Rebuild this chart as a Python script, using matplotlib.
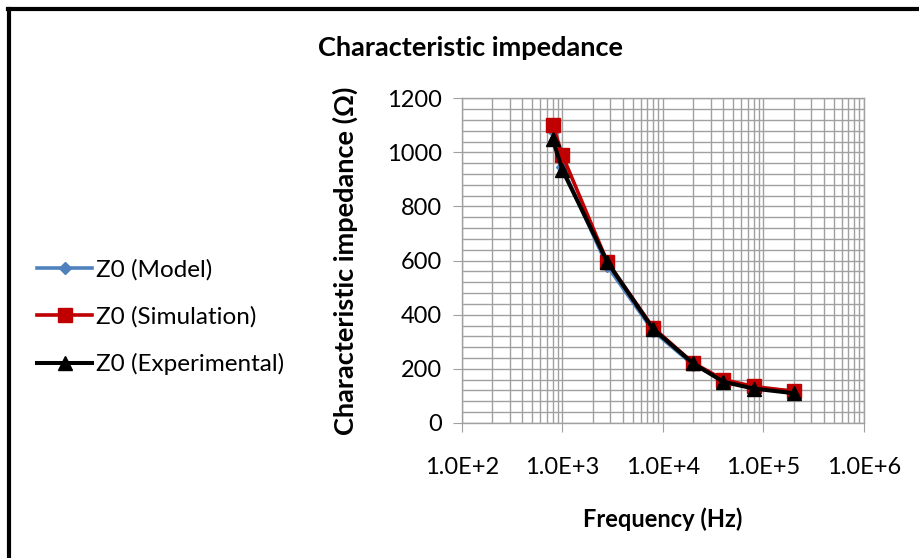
import math
import matplotlib
matplotlib.use('Agg')
import matplotlib.pyplot as plt
from matplotlib.ticker import FixedLocator, LogLocator, MultipleLocator, FuncFormatter, NullFormatter
from matplotlib.lines import Line2D

plt.rcParams['font.family'] = ['Lato', 'DejaVu Sans']

# data
freq = [800, 1000, 2800, 8000, 20000, 40000, 80000, 200000]
z_model = [1080, 945, 580, 340, 215, 160, 130, 118]
z_sim = [1102, 990, 595, 352, 222, 160, 135, 117]
z_exp = [1050, 935, 595, 347, 220, 152, 127, 110]

fig = plt.figure(figsize=(9.2, 5.58), dpi=100)
ax = fig.add_axes([0.502, 0.242, 0.437, 0.582])

ax.plot(freq, z_model, color='#4F81BD', lw=2.6, marker='D', ms=6.5, label='Z0 (Model)')
ax.plot(freq, z_sim, color='#C00000', lw=2.6, marker='s', ms=9.5, label='Z0 (Simulation)')
ax.plot(freq, z_exp, color='black', lw=2.9, marker='^', ms=9.5, label='Z0 (Experimental)')

ax.set_xscale('log')
ax.set_xlim(1e2, 1e6)
ax.set_ylim(0, 1200)
ax.yaxis.set_major_locator(MultipleLocator(200))
ax.yaxis.set_minor_locator(MultipleLocator(40))
ax.xaxis.set_major_locator(FixedLocator([1e2, 1e3, 1e4, 1e5, 1e6]))
ax.xaxis.set_minor_locator(LogLocator(base=10, subs=range(2, 10)))
ax.xaxis.set_minor_formatter(NullFormatter())
ax.xaxis.set_major_formatter(FuncFormatter(lambda v, p: '1.0E+%d' % round(math.log10(v))))

ax.grid(True, which='both', color='#a0a0a0', lw=1)
ax.set_axisbelow(True)
for s in ax.spines.values():
    s.set_color('#a0a0a0')
    s.set_linewidth(1)
ax.tick_params(which='major', length=6.5, color='#a0a0a0', labelsize=17, pad=8)
ax.tick_params(which='minor', length=0)
ax.tick_params(axis='x', pad=18)

fig.text(663 / 920, 1 - 519 / 558, 'Frequency (Hz)', ha='center', va='center',
         fontsize=17, fontweight='bold')
fig.text(345 / 920, 1 - 261 / 558, 'Characteristic impedance (\u03a9)', ha='center',
         va='center', rotation=90, fontsize=19.5, fontweight='bold')
fig.text(471 / 920, 1 - 48 / 558, 'Characteristic impedance', ha='center', va='center',
         fontsize=19.5, fontweight='bold')

handles, labels = ax.get_legend_handles_labels()
fig.legend(handles, labels, loc='center left', bbox_to_anchor=(0.016, 1 - 317 / 558),
           frameon=False, fontsize=17.5, handlelength=2.3, handletextpad=0.15,
           labelspacing=1.05)

# chart frame (only top and left edges visible)
fig.add_artist(Line2D([0.009, 1.0], [1 - 9 / 558, 1 - 9 / 558], color='black', lw=3,
                      transform=fig.transFigure))
fig.add_artist(Line2D([8.5 / 920, 8.5 / 920], [0, 1 - 9 / 558], color='black', lw=3,
                      transform=fig.transFigure))

fig.savefig('out.png', dpi=100)
